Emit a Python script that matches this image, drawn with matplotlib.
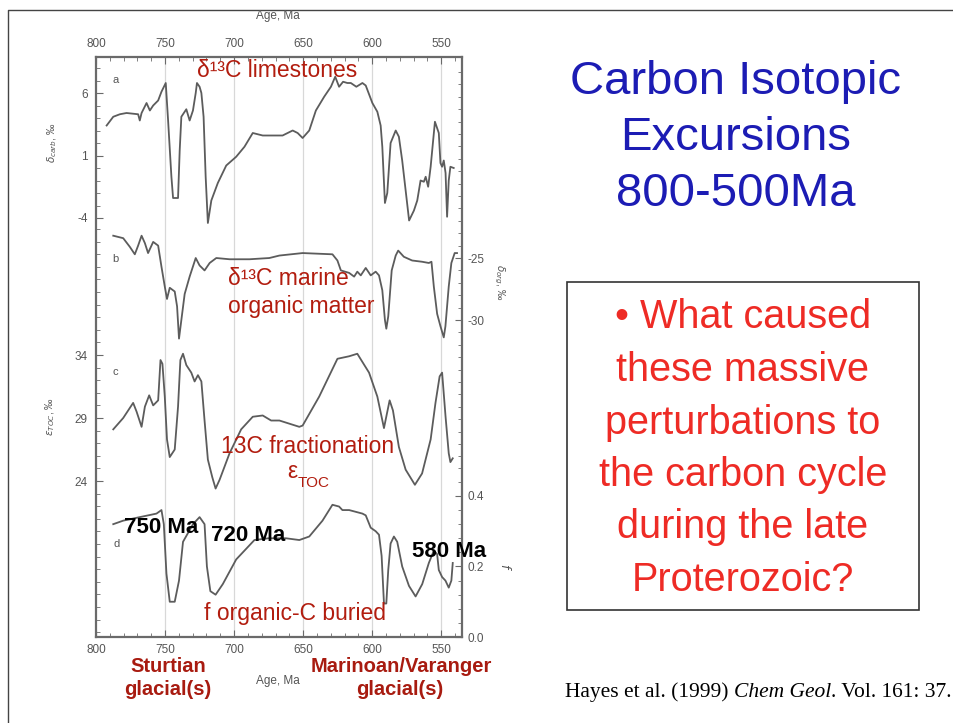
import matplotlib
matplotlib.use("Agg")
import matplotlib.pyplot as plt
from matplotlib.lines import Line2D
from matplotlib.patches import Rectangle
from matplotlib.ticker import FixedLocator, NullFormatter
import numpy as np

plt.rcParams['font.family'] = ['Liberation Sans', 'DejaVu Sans']

W, H = 954, 723

# ---- data: age (Ma) and value for each record ----
age_carb = [792.3, 787.5, 782.7, 777.9, 769.5, 768.3, 767.0, 763.4, 761.0, 758.6,
            755.0, 752.6, 749.5, 747.8, 745.4, 744.2, 740.6, 739.4, 738.2, 734.6,
            732.2, 729.8, 727.8, 726.9, 725.0, 723.7, 722.1, 720.6, 719.0, 716.5,
            711.8, 705.7, 698.5, 692.5, 686.5, 679.3, 674.5, 664.9, 657.6, 654.0,
            650.4, 645.6, 640.8, 634.8, 629.9, 626.8, 624.0, 621.1, 618.0, 615.5,
            611.5, 607.1, 604.7, 599.9, 596.3, 593.9, 592.7, 590.8, 589.1, 586.7,
            583.0, 580.7, 578.3, 575.8, 573.3, 569.8, 567.4, 565.0, 562.6, 561.3,
            559.5, 557.7, 554.6, 551.8, 550.6, 549.4, 548.2, 546.9, 545.8, 544.6,
            543.4, 541.0]
d13c_carb = [3.4, 4.1, 4.3, 4.4, 4.3, 3.8, 4.4, 5.2, 4.6, 5.0,
             5.4, 6.1, 6.8, 3.8, -0.7, -2.4, -2.4, 1.4, 4.1, 4.7,
             3.8, 4.6, 6.0, 6.8, 6.5, 6.0, 4.1, -0.7, -4.4, -2.6,
             -1.2, 0.2, 0.9, 1.7, 2.8, 2.6, 2.6, 2.6, 3.0, 2.8,
             2.4, 3.0, 4.6, 5.7, 6.5, 7.3, 6.5, 6.9, 6.8, 6.8,
             6.5, 6.8, 6.6, 5.2, 4.5, 3.4, 1.7, -2.8, -2.0, 2.0,
             3.0, 2.5, 0.6, -1.8, -4.2, -3.4, -2.6, -1.0, -1.1, -0.7,
             -1.5, 0.1, 3.7, 2.8, 0.4, 0.1, 0.6, -0.4, -3.9, -1.0,
             0.1, 0.0]

age_org = [787.5, 780.3, 775.5, 771.9, 769.5, 767.0, 764.6, 762.3, 758.6, 755.0,
           752.6, 750.2, 748.6, 746.6, 743.0, 741.3, 739.9, 738.2, 735.8, 732.2,
           727.8, 725.0, 721.4, 717.7, 712.9, 703.3, 688.9, 674.5, 667.2, 650.4,
           628.8, 625.2, 622.7, 616.7, 613.1, 610.8, 608.3, 604.7, 601.1, 597.5,
           595.1, 592.7, 590.8, 589.8, 588.4, 585.9, 583.0, 581.2, 577.1, 571.1,
           563.9, 559.0, 557.1, 555.4, 553.0, 550.6, 548.2, 547.0, 544.6, 542.7,
           540.3, 538.6]
d13c_org = [-23.2, -23.4, -24.1, -24.7, -24.0, -23.2, -23.8, -24.6, -23.7, -24.0,
            -25.7, -27.3, -28.3, -27.4, -27.7, -28.9, -31.5, -30.0, -27.9, -26.5,
            -25.0, -25.6, -26.0, -25.4, -25.0, -25.1, -25.1, -25.0, -24.8, -24.6,
            -24.7, -25.2, -26.0, -26.2, -26.5, -26.1, -26.4, -25.8, -26.4, -26.1,
            -26.4, -27.6, -30.0, -30.7, -29.7, -26.0, -24.8, -24.4, -24.9, -25.2,
            -25.3, -25.4, -25.3, -27.3, -29.5, -30.5, -31.4, -30.5, -27.3, -25.4,
            -24.6, -24.6]

age_eps = [787.5, 780.3, 773.1, 770.6, 767.0, 764.6, 761.5, 758.6, 755.0, 753.3,
           751.9, 750.2, 748.6, 746.6, 743.0, 740.6, 738.9, 737.0, 734.6, 731.0,
           728.6, 726.2, 723.7, 721.4, 719.0, 715.8, 713.4, 710.5, 703.3, 694.9,
           686.5, 679.3, 673.2, 667.2, 652.8, 650.4, 638.4, 625.2, 616.7, 610.8,
           602.3, 596.3, 591.5, 587.4, 585.0, 580.7, 575.8, 569.1, 563.9, 557.7,
           554.2, 551.2, 549.4, 546.9, 544.6, 543.4, 541.7]
eps_toc = [28.1, 29.0, 30.2, 29.5, 28.3, 29.9, 30.8, 30.0, 30.4, 33.6,
           33.3, 30.7, 27.3, 25.9, 26.5, 29.9, 33.6, 34.1, 33.2, 32.6,
           31.9, 32.4, 31.9, 28.8, 25.7, 24.3, 23.4, 24.1, 26.2, 28.1,
           29.1, 29.2, 28.8, 28.8, 28.3, 28.4, 30.7, 33.7, 33.9, 34.1,
           32.6, 30.7, 28.2, 30.4, 29.6, 26.7, 24.9, 23.7, 24.6, 27.3,
           30.2, 32.3, 32.6, 29.1, 26.2, 25.5, 25.8]

age_f = [787.5, 780.3, 768.3, 756.2, 752.6, 750.9, 749.0, 746.6, 743.0, 739.9,
         737.0, 734.1, 729.8, 725.0, 721.4, 719.7, 717.2, 713.4, 708.2, 698.5,
         685.3, 675.0, 662.4, 652.8, 645.6, 636.0, 628.8, 624.0, 621.6, 616.7,
         611.9, 607.1, 604.7, 601.1, 597.5, 595.1, 593.2, 591.5, 589.8, 588.4,
         586.7, 584.3, 581.9, 578.3, 573.4, 568.6, 563.8, 559.0, 555.4, 553.0,
         551.8, 549.4, 547.0, 544.6, 542.7, 541.7]
f_org = [0.32, 0.33, 0.34, 0.35, 0.36, 0.32, 0.18, 0.10, 0.10, 0.16,
         0.27, 0.29, 0.32, 0.34, 0.32, 0.20, 0.13, 0.12, 0.15, 0.22,
         0.275, 0.28, 0.28, 0.275, 0.285, 0.33, 0.375, 0.37, 0.36, 0.36,
         0.355, 0.35, 0.345, 0.31, 0.30, 0.29, 0.23, 0.095, 0.095, 0.19,
         0.265, 0.285, 0.27, 0.20, 0.145, 0.115, 0.15, 0.21, 0.245, 0.235,
         0.19, 0.17, 0.16, 0.14, 0.16, 0.21]

age_ticks = [800, 750, 700, 650, 600, 550]

CURVE = '#5c5c5c'
AXC = '#6a6a6a'
LBL = '#555555'
NOTE = '#b21d0f'
TITLE = '#1c1cb4'
ASK = '#ee2b25'

fig = plt.figure(figsize=(W / 100, H / 100), dpi=100)


def fpos(x0, y0, x1, y1):
    return [x0 / W, 1 - y1 / H, (x1 - x0) / W, (y1 - y0) / H]


def put(x, y, s, **kw):
    kw.setdefault('ha', 'center')
    kw.setdefault('va', 'baseline')
    return fig.text(x / W, 1 - y / H, s, **kw)


# slide border
fig.add_artist(Line2D([8 / W, 8 / W, 1.0], [0.0, 1 - 10 / H, 1 - 10 / H],
                      transform=fig.transFigure, color='#444444', lw=1.0))

# ---- framed plot ----
pos = fpos(96, 57, 462, 637)
frame = fig.add_axes(pos)
frame.set_xlim(800, 535)
frame.set_ylim(0, 1)
frame.set_yticks([])
for s in frame.spines.values():
    s.set_color(AXC)
    s.set_linewidth(1.6)
frame.set_xticks(age_ticks)
frame.xaxis.set_minor_locator(FixedLocator(np.arange(540, 801, 10)))
frame.tick_params(axis='x', which='both', direction='in', top=True, bottom=True,
                  labeltop=True, labelbottom=True, colors=AXC, labelcolor=LBL,
                  labelsize=8.5, pad=5)
frame.tick_params(axis='x', which='major', length=5)
frame.tick_params(axis='x', which='minor', length=3)
for a in age_ticks[1:]:
    frame.axvline(a, color='#d8d8d8', lw=0.9, zorder=0)

panels = {}
specs = [
    ('a', age_carb, d13c_carb, (-37.52, 8.88), 'left', [6, 1, -4], ['6', '1', '-4'],
     np.arange(-4, 9, 1)),
    ('b', age_org, d13c_org, (-55.56, -8.79), 'right', [-25, -30], ['-25', '-30'],
     np.arange(-41, -9, 1)),
    ('c', age_eps, eps_toc, (11.62, 57.65), 'left', [34, 29, 24], ['34', '29', '24'],
     np.arange(12, 45, 1)),
    ('d', age_f, f_org, (0.0, 1.645), 'right', [0.0, 0.2, 0.4], ['0.0', '0.2', '0.4'],
     np.arange(0, 0.49, 0.04)),
]
for name, ages, vals, ylim, side, ticks, labels, minors in specs:
    ax = fig.add_axes(pos, sharex=frame)
    ax.patch.set_alpha(0)
    for s in ax.spines.values():
        s.set_visible(False)
    ax.xaxis.set_visible(False)
    ax.set_ylim(*ylim)
    ax.plot(ages, vals, color=CURVE, lw=1.3, solid_joinstyle='round')
    if side == 'right':
        ax.yaxis.tick_right()
    ax.set_yticks(ticks)
    ax.set_yticklabels(labels)
    ax.yaxis.set_minor_locator(FixedLocator(minors))
    ax.yaxis.set_minor_formatter(NullFormatter())
    ax.tick_params(axis='y', which='both', direction='in', colors=AXC,
                   labelcolor=LBL, labelsize=8.5, pad=6 if side == 'left' else 4)
    ax.tick_params(axis='y', which='major', length=5)
    ax.tick_params(axis='y', which='minor', length=3)
    panels[name] = ax

# panel letters
for ch, (x, y) in {'a': (116, 83), 'b': (115, 262), 'c': (115, 375), 'd': (117, 547)}.items():
    put(x, y, ch, size=8, color=LBL)

# axis titles
put(278, 19, 'Age, Ma', size=8.5, color=LBL)
put(278, 684, 'Age, Ma', size=8.5, color=LBL)
put(52, 143, r'$\delta_{carb}$, ‰', size=7.5, color=LBL, rotation=90, va='center')
put(50, 416, r'$\varepsilon_{TOC}$, ‰', size=7.5, color=LBL, rotation=90, va='center')
put(499, 282, r'$\delta_{org}$, ‰', size=7.5, color=LBL, rotation=270, va='center')
put(505, 567, r'$f$', size=9, color=LBL, rotation=270, va='center')

# curve annotations
put(277.5, 77, 'δ¹³C limestones', size=16.5, color=NOTE)
put(288, 285, 'δ¹³C marine', size=16.5, color=NOTE)
put(301, 313, 'organic matter', size=16.5, color=NOTE)
put(308, 453, '13C fractionation', size=16.5, color=NOTE)
put(292, 478, 'ε', size=16.5, color=NOTE)
put(298, 487, 'TOC', size=11, color=NOTE, ha='left')
put(295.5, 620, 'f organic-C buried', size=16.5, color=NOTE)

put(161, 533, '750 Ma', size=16, weight='bold', color='black')
put(248, 541, '720 Ma', size=16, weight='bold', color='black')
put(449, 557, '580 Ma', size=16, weight='bold', color='black')

put(168, 672, 'Sturtian', size=14.5, weight='bold', color='#a81b10')
put(168, 695, 'glacial(s)', size=14.5, weight='bold', color='#a81b10')
put(401, 672, 'Marinoan/Varanger', size=14.5, weight='bold', color='#a81b10')
put(400, 695, 'glacial(s)', size=14.5, weight='bold', color='#a81b10')

# title
for y, line in zip([94, 150, 206], ['Carbon Isotopic', 'Excursions', '800-500Ma']):
    put(736, y, line, size=34, color=TITLE)

# question box
fig.add_artist(Rectangle((567 / W, 1 - 610 / H), (919 - 567) / W, (610 - 282) / H,
                         transform=fig.transFigure, fill=False,
                         edgecolor='#333333', lw=1.2))
question = ['• What caused', 'these massive', 'perturbations to',
            'the carbon cycle', 'during the late', 'Proterozoic?']
for i, line in enumerate(question):
    put(743, 328.5 + 52.5 * i, line, size=28.5, color=ASK)

# reference line with italic journal name
parts = [('Hayes et al. (1999) ', 'normal'), ('Chem Geol', 'italic'),
         ('. Vol. 161: 37.', 'normal')]
fig.canvas.draw()
renderer = fig.canvas.get_renderer()
x = 565
for txt, style in parts:
    t = put(x, 697, txt, size=15.5, color='black', ha='left',
            family='Liberation Serif', style=style)
    bb = t.get_window_extent(renderer)
    x += bb.width

fig.savefig('out.png', dpi=100)
